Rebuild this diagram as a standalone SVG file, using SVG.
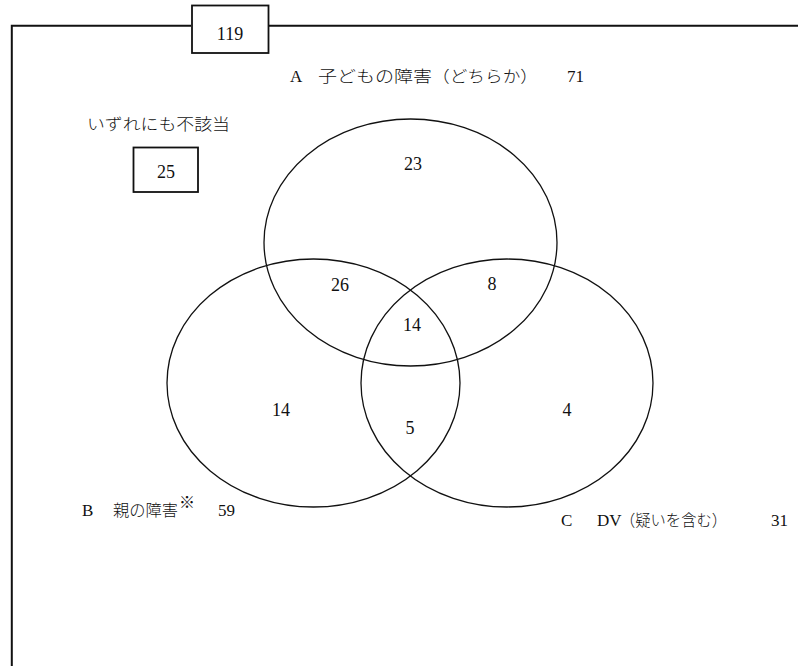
<svg xmlns="http://www.w3.org/2000/svg" width="798" height="666" viewBox="0 0 798 666">
<style>
.frame{fill:none;stroke:#111;stroke-width:2}
.box{fill:#fff;stroke:#111;stroke-width:1.8}
.set{fill:none;stroke:#111;stroke-width:1.3}
.num{font-family:"Liberation Serif",serif;font-size:18px;fill:#111;text-anchor:middle}
.lbl{font-family:"Liberation Serif","Noto Sans CJK JP",serif;font-size:17px;fill:#111}
.jp{font-family:"Noto Sans CJK JP","Liberation Serif",sans-serif;font-size:16px;font-weight:300;fill:#111}
</style>
<rect width="798" height="666" fill="#fff"/>
<g id="frame">
  <path class="frame" d="M11.8,666 V25.8 H191 M269,25.8 H798"/>
</g>
<g id="total">
  <rect class="box" x="192" y="5.5" width="76.5" height="47.5"/>
  <text class="num" x="230" y="40">119</text>
</g>
<g id="none">
  <text class="jp" x="87" y="130" textLength="143" lengthAdjust="spacingAndGlyphs">いずれにも不該当</text>
  <rect class="box" x="133.5" y="147.5" width="64.5" height="44.5"/>
  <text class="num" x="166" y="178">25</text>
</g>
<g id="setA">
  <ellipse class="set" cx="410.5" cy="242.5" rx="146.5" ry="123.5"/>
  <text class="lbl" x="290" y="82">A</text>
  <text class="jp" x="318" y="82" textLength="114" lengthAdjust="spacingAndGlyphs">子どもの障害</text>
  <text class="jp" x="432" y="82" textLength="106" lengthAdjust="spacingAndGlyphs">（どちらか）</text>
  <text class="lbl" x="567" y="82">71</text>
</g>
<g id="setB">
  <ellipse class="set" cx="313.5" cy="383" rx="146.5" ry="124"/>
  <text class="lbl" x="82" y="516">B</text>
  <text class="jp" x="113" y="516" textLength="65" lengthAdjust="spacingAndGlyphs">親の障害</text>
  <text class="jp" x="179" y="508" font-size="7">※</text>
  <text class="lbl" x="218" y="516">59</text>
</g>
<g id="setC">
  <ellipse class="set" cx="507" cy="383" rx="146" ry="124"/>
  <text class="lbl" x="561" y="526">C</text>
  <text class="lbl" x="597" y="526">DV</text>
  <text class="jp" x="620" y="526" textLength="107" lengthAdjust="spacingAndGlyphs">（疑いを含む）</text>
  <text class="lbl" x="771" y="526">31</text>
</g>
<g id="regions">
  <text class="num" x="413" y="170">23</text>
  <text class="num" x="340" y="291">26</text>
  <text class="num" x="492" y="290">8</text>
  <text class="num" x="412" y="331">14</text>
  <text class="num" x="281" y="416">14</text>
  <text class="num" x="410" y="434">5</text>
  <text class="num" x="567" y="416">4</text>
</g>
</svg>
